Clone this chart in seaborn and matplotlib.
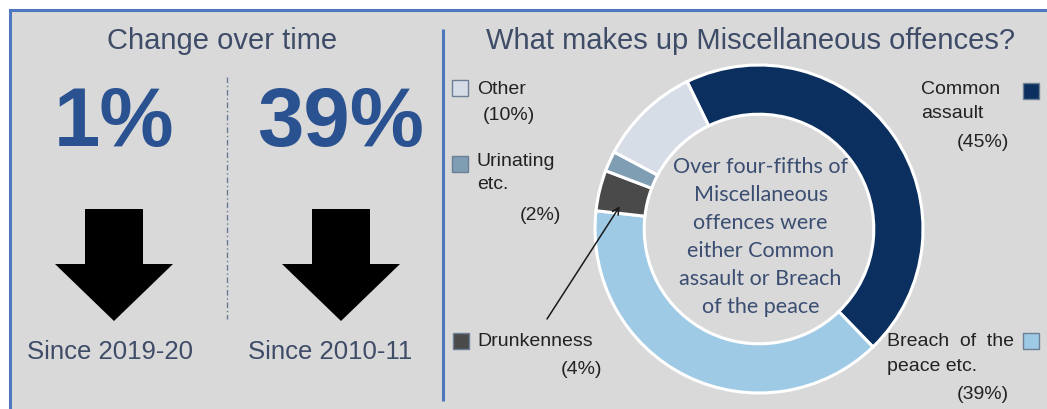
import matplotlib
matplotlib.use("Agg")
import matplotlib.pyplot as plt
from matplotlib.patches import Rectangle, Polygon
import numpy as np
import seaborn as sns

# ---- data -------------------------------------------------------------
categories = ["Common assault", "Breach of the peace etc.", "Drunkenness",
              "Urinating etc.", "Other"]
shares = [45, 39, 4, 2, 10]
category_colors = ["#0b2f5e", "#9ecae6", "#4a4a4a", "#7f9db3", "#d6dde7"]

change_pct = [1, 39]
change_periods = ["Since 2019-20", "Since 2010-11"]

# ---- style ------------------------------------------------------------
sns.set_theme(style="white")
plt.rcParams["font.family"] = ["Liberation Sans", "DejaVu Sans"]

W, H, DPI = 1047, 410, 100
PANEL = "#d9d9d9"
BORDER = "#4d78be"
TITLE_C = "#3e4c68"
BIG_C = "#2a5291"
LABEL_C = "#222222"

fig = plt.figure(figsize=(W / DPI, H / DPI), dpi=DPI)
fig.patch.set_facecolor("white")

# pixel-space canvas for the panel, headings and labels
bg = fig.add_axes([0, 0, 1, 1], zorder=0)
bg.set_xlim(0, W)
bg.set_ylim(H, 0)
bg.axis("off")

bg.add_patch(Rectangle((10, 11), W + 20, H + 20, facecolor=PANEL,
                       edgecolor=BORDER, linewidth=2.2))
bg.plot([443, 443], [30, 402], color=BORDER, lw=2.2, solid_capstyle="butt")
bg.plot([227, 227], [78, 320], color="#6a7a96", lw=1.0,
        linestyle=(0, (4, 2, 1, 2)))

# ---- left panel: change over time ------------------------------------
bg.text(222, 41, "Change over time", ha="center", va="center",
        fontsize=21, color=TITLE_C)

for cx, lx, pct, period in zip([114, 341], [110, 330], change_pct,
                               change_periods):
    bg.text(cx, 124, f"{pct}%", ha="center", va="center", fontsize=60,
            fontweight="bold", color=BIG_C)
    # down arrow: shaft + head
    shaft_w, head_w = 58, 118
    arrow = Polygon([(cx - shaft_w / 2, 210), (cx + shaft_w / 2, 210),
                     (cx + shaft_w / 2, 265), (cx + head_w / 2, 265),
                     (cx, 322), (cx - head_w / 2, 265),
                     (cx - shaft_w / 2, 265)], closed=True,
                    facecolor="black", edgecolor="none")
    bg.add_patch(arrow)
    bg.text(lx, 352, period, ha="center", va="center", fontsize=18.5,
            color=TITLE_C)

# ---- right panel: composition donut -----------------------------------
bg.text(751, 41, "What makes up Miscellaneous offences?", ha="center",
        va="center", fontsize=21, color=TITLE_C)

cx_px, cy_px, r_px = 759, 230, 164
pad = 1.03
box = r_px * pad
pie_ax = fig.add_axes([(cx_px - box) / W, (H - cy_px - box) / H,
                       2 * box / W, 2 * box / H], zorder=1)
pie_ax.set_facecolor("none")
wedges, _ = pie_ax.pie(shares, colors=category_colors, startangle=116,
                       counterclock=False, radius=1.0,
                       wedgeprops=dict(width=0.30, edgecolor="white",
                                       linewidth=2.2))
pie_ax.set_xlim(-pad, pad)
pie_ax.set_ylim(-pad, pad)
pie_ax.set_aspect("equal")
pie_ax.axis("off")

pie_ax.text(0.01, -0.04,
            "Over four-fifths of\nMiscellaneous\noffences were\n"
            "either Common\nassault or Breach\nof the peace",
            ha="center", va="center", fontsize=15.5, color="#3b4e72",
            family=["Lato", "DejaVu Sans"], linespacing=1.5)

# legend squares and labels around the ring
lab_fs = 14
sq = 16


def swatch(x, y, color):
    bg.add_patch(Rectangle((x, y), sq, sq, facecolor=color,
                           edgecolor="#6d7f95", linewidth=1.0, zorder=3))


idx = {c: i for i, c in enumerate(categories)}

swatch(452, 81, category_colors[idx["Other"]])
bg.text(477, 89, "Other", va="center", fontsize=lab_fs, color=LABEL_C)
bg.text(483, 115, f"({shares[idx['Other']]}%)", va="center",
        fontsize=lab_fs, color=LABEL_C)

swatch(452, 157, category_colors[idx["Urinating etc."]])
bg.text(477, 162, "Urinating", va="center", fontsize=lab_fs, color=LABEL_C)
bg.text(477, 185, "etc.", va="center", fontsize=lab_fs, color=LABEL_C)
bg.text(520, 216, f"({shares[idx['Urinating etc.']]}%)", va="center",
        fontsize=lab_fs, color=LABEL_C)

swatch(453, 334, category_colors[idx["Drunkenness"]])
bg.text(477, 342, "Drunkenness", va="center", fontsize=lab_fs, color=LABEL_C)
bg.text(561, 370, f"({shares[idx['Drunkenness']]}%)", va="center",
        fontsize=lab_fs, color=LABEL_C)

swatch(1023, 84, category_colors[idx["Common assault"]])
bg.text(921, 89, "Common", va="center", fontsize=lab_fs, color=LABEL_C)
bg.text(921, 114, "assault", va="center", fontsize=lab_fs, color=LABEL_C)
bg.text(957, 143, f"({shares[idx['Common assault']]}%)", va="center",
        fontsize=lab_fs, color=LABEL_C)

swatch(1023, 334, category_colors[idx["Breach of the peace etc."]])
bg.text(887, 342, "Breach  of  the", va="center", fontsize=lab_fs,
        color=LABEL_C)
bg.text(887, 367, "peace etc.", va="center", fontsize=lab_fs, color=LABEL_C)
bg.text(957, 395, f"({shares[idx['Breach of the peace etc.']]}%)",
        va="center", fontsize=lab_fs, color=LABEL_C)

# pointer from the Drunkenness label to its (thin) segment
w = wedges[idx["Drunkenness"]]
ang = np.deg2rad(w.theta1 + 0.8 * (w.theta2 - w.theta1))
r_tip = 0.86
pie_ax.annotate("", xy=(r_tip * np.cos(ang), r_tip * np.sin(ang)),
                xytext=(547, 320), textcoords=bg.transData,
                arrowprops=dict(arrowstyle="->", color="#1a1a1a", lw=1.1,
                                shrinkA=0, shrinkB=0, mutation_scale=12),
                zorder=5)

fig.savefig("out.png", dpi=DPI, facecolor=fig.get_facecolor())
